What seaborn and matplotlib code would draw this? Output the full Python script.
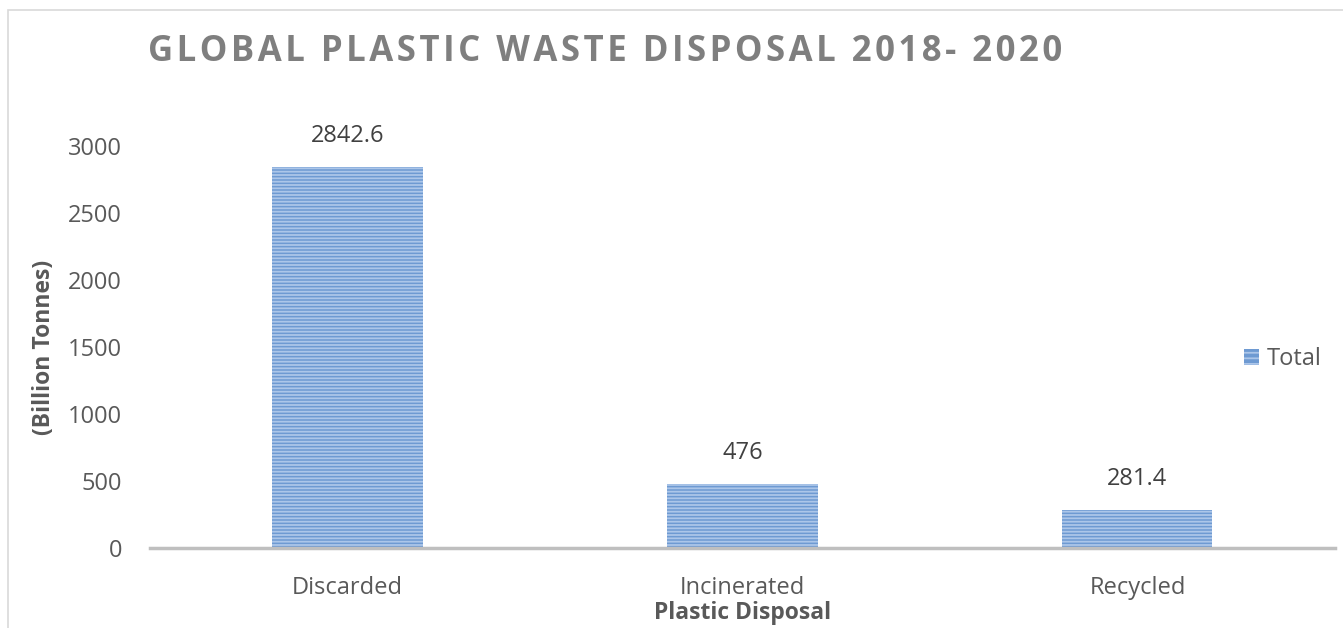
import pandas as pd
import matplotlib.pyplot as plt
import seaborn as sns
from matplotlib.patches import Rectangle, Patch

# data
categories = ["Discarded", "Incinerated", "Recycled"]
totals = [2842.6, 476, 281.4]
value_labels = ["2842.6", "476", "281.4"]
y_ticks = [0, 500, 1000, 1500, 2000, 2500, 3000]

df = pd.DataFrame({"disposal": categories, "total": totals})

sns.set_theme(style="white")
plt.rcParams['font.family'] = ['Open Sans', 'DejaVu Sans']
plt.rcParams['hatch.linewidth'] = 1.3

text_grey = "#595959"
bar_blue = "#6e9ad2"
hatch_blue = "#acc6e9"

fig = plt.figure(figsize=(13.43, 6.28), dpi=100)
ax = fig.add_axes([0.1117, 0.1274, 0.8823, 0.6401])

sns.barplot(data=df, x="disposal", y="total", color=bar_blue,
            width=0.38, saturation=1, ax=ax)

for bar in ax.patches:
    bar.set_hatch("-----")
    bar.set_edgecolor(hatch_blue)
    bar.set_linewidth(0)

ax.set_xlim(-0.5, 2.5)
ax.set_ylim(0, 3000)
ax.set_yticks(y_ticks)
ax.tick_params(axis="both", length=0, labelsize=17, colors=text_grey)
ax.tick_params(axis="x", pad=20)
ax.tick_params(axis="y", pad=20)

for side in ["top", "right", "left"]:
    ax.spines[side].set_visible(False)
ax.spines["bottom"].set_color("#bfbfbf")
ax.spines["bottom"].set_linewidth(2.5)

# value labels above bars
for bar, lab in zip(ax.patches, value_labels):
    ax.annotate(lab, (bar.get_x() + bar.get_width() / 2, bar.get_height()),
                xytext=(0, 14), textcoords="offset points",
                ha="center", va="bottom", fontsize=17, color="#404040")

ax.set_xlabel("Plastic Disposal", fontsize=16.5, fontweight="bold",
              color=text_grey, labelpad=1)
ax.set_ylabel("(Billion Tonnes)", fontsize=16.5, fontweight="bold",
              color=text_grey, labelpad=9)

handle = Patch(facecolor=bar_blue, edgecolor=hatch_blue, hatch="---", linewidth=0)
ax.legend([handle], ["Total"], loc="center left", bbox_to_anchor=(0.905, 0.47),
          frameon=False, fontsize=17, handlelength=0.65, handleheight=0.65,
          handletextpad=0.35, labelcolor=text_grey)

# chart frame, cropped like the reference
fig.patches.append(Rectangle((8 / 1343, -0.1), 1.2, 1.1 - 10 / 628,
                             transform=fig.transFigure, fill=False,
                             edgecolor="#d9d9d9", linewidth=1.2))

title = "GLOBAL PLASTIC WASTE DISPOSAL 2018- 2020"
fig.text(0.110, 0.917, "\u200a".join(title), fontsize=25, fontweight="bold",
         color="#7f7f7f", ha="left", va="center")

fig.savefig("out.png", dpi=100)
